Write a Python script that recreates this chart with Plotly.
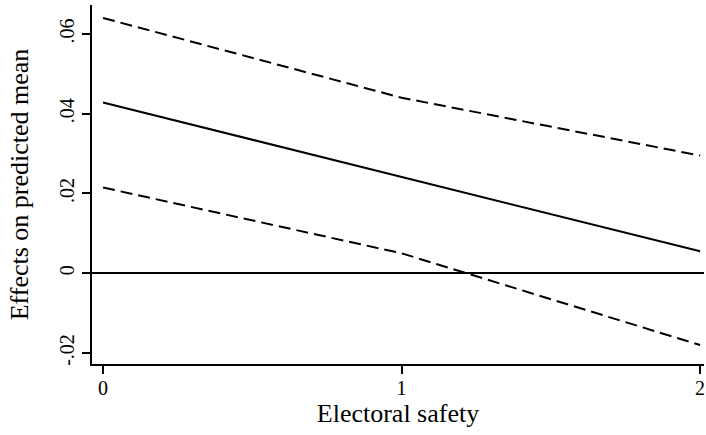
import plotly.graph_objects as go

safety = [0, 1, 2]
effect = [0.0428, 0.0242, 0.0055]
upper = [0.0640, 0.0440, 0.0295]
lower = [0.0215, 0.0050, -0.0180]

x_ticks = [0, 1, 2]
x_labels = ["0", "1", "2"]
y_ticks = [-0.02, 0, 0.02, 0.04, 0.06]
y_labels = ["-.02", "0", ".02", ".04", ".06"]

font = "Liberation Serif, Times New Roman, serif"

fig = go.Figure()
fig.add_trace(go.Scatter(x=safety, y=upper, mode="lines",
                         line=dict(color="black", width=2, dash="12px,6px")))
fig.add_trace(go.Scatter(x=safety, y=effect, mode="lines",
                         line=dict(color="black", width=2)))
fig.add_trace(go.Scatter(x=safety, y=lower, mode="lines",
                         line=dict(color="black", width=2, dash="12px,6px")))

fig.update_layout(
    width=706, height=435,
    margin=dict(l=92, r=2, t=5, b=71),
    paper_bgcolor="white", plot_bgcolor="white",
    showlegend=False,
    font=dict(family=font, color="black", size=20),
    xaxis=dict(
        range=[-0.0369, 2.013],
        tickvals=x_ticks, ticktext=x_labels,
        showline=True, linecolor="black", linewidth=2,
        ticks="outside", ticklen=8, tickwidth=1.5, tickcolor="black",
        showgrid=False, zeroline=False, automargin=False,
        tickfont=dict(size=20, family=font),
        ticklabelstandoff=-3,
        title=dict(text="Electoral safety", font=dict(size=26, family=font), standoff=4),
    ),
    yaxis=dict(
        range=[-0.02275, 0.06725],
        tickvals=y_ticks, ticktext=y_labels,
        tickangle=-90,
        showline=True, linecolor="black", linewidth=2,
        ticks="outside", ticklen=8, tickwidth=1.5, tickcolor="black",
        showgrid=False, automargin=False,
        zeroline=True, zerolinecolor="black", zerolinewidth=2,
        tickfont=dict(size=20, family=font),
        title=dict(text="Effects on predicted mean", font=dict(size=26, family=font), standoff=20),
    ),
)

fig.write_html(
    "out.html",
    config={"displayModeBar": False},
    post_script="document.body.style.margin='0';document.body.style.overflow='hidden';",
)
